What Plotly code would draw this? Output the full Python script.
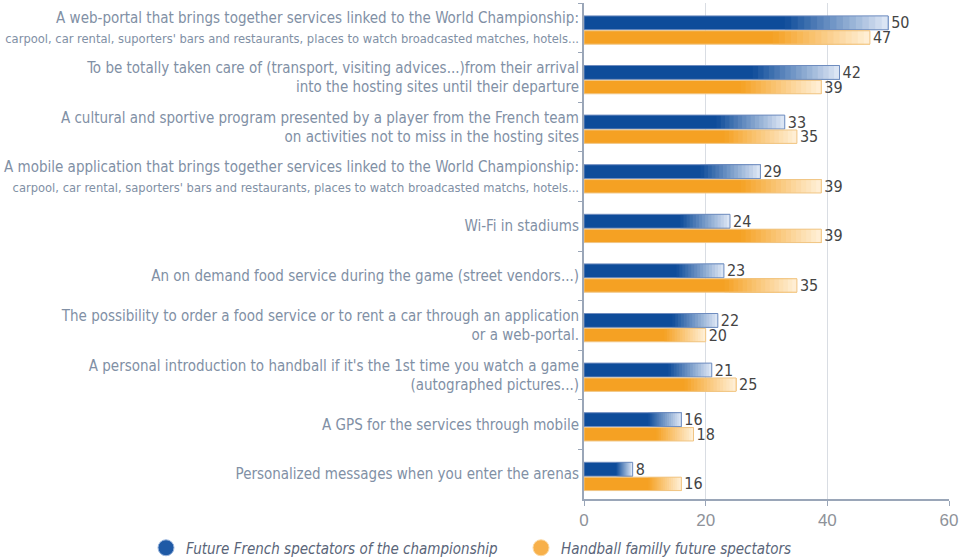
import plotly.graph_objects as go

categories = [
    "A web-portal that brings together services linked to the World Championship:<br><span style='font-size:12.8px'>carpool, car rental, suporters' bars and restaurants, places to watch broadcasted matches, hotels...</span>",
    "To be totally taken care of (transport, visiting advices...)from their arrival<br>into the hosting sites until their departure",
    "A cultural and sportive program presented by a player from the French team<br>on activities not to miss in the hosting sites",
    "A mobile application that brings together services linked to the World Championship:<br><span style='font-size:12.8px'>carpool, car rental, saporters' bars and restaurants, places to watch broadcasted matchs, hotels...</span>",
    "Wi-Fi in stadiums",
    "An on demand food service during the game (street vendors...)",
    "The possibility to order a food service or to rent a car through an application<br>or a web-portal.",
    "A personal introduction to handball if it's the 1st time you watch a game<br>(autographed pictures...)",
    "A GPS for the services through mobile",
    "Personalized messages when you enter the arenas",
]
french = [50, 42, 33, 29, 24, 23, 22, 21, 16, 8]
handball = [47, 39, 35, 39, 39, 35, 20, 25, 18, 16]
series_names = ["Future French spectators of the championship", "Handball familly future spectators"]
x_ticks = [0, 20, 40, 60]

FONT = "Liberation Sans Narrow, DejaVu Sans Condensed, Arial Narrow, sans-serif"
GREY = "#8190a5"


def mix(c1, c2, t):
    a = [int(c1[i:i + 2], 16) for i in (1, 3, 5)]
    b = [int(c2[i:i + 2], 16) for i in (1, 3, 5)]
    return "#" + "".join(f"{round(a[i] + (b[i] - a[i]) * t):02x}" for i in range(3))


styles = [
    dict(dark="#0e4c9a", light="#e2eaf7", edge="#6e8cbf", offset=-0.24, width=0.28),
    dict(dark="#f5a123", light="#fff1da", edge="#f0c584", offset=0.06, width=0.27),
]
NSEG = 16
FADE_START = 0.66

fig = go.Figure()
for vals, name, st in zip([french, handball], series_names, styles):
    # solid body of the bar, with the value label
    fig.add_trace(go.Bar(
        y=categories, x=vals, orientation="h", name=name,
        offset=st["offset"], width=st["width"],
        marker=dict(color=st["dark"], line=dict(width=0)),
        text=vals, textposition="outside", cliponaxis=False, constraintext="none",
        textfont=dict(color="#444444", size=16, family=FONT),
        showlegend=False, hoverinfo="x+y",
    ))
    # fading end of the bar (each step overlaps the next to avoid seams)
    for k in range(NSEG):
        f0 = FADE_START + (1 - FADE_START) * k / NSEG
        fig.add_trace(go.Bar(
            y=categories, x=[v * (1 - f0) for v in vals], base=[v * f0 for v in vals],
            orientation="h", offset=st["offset"], width=st["width"],
            marker=dict(color=mix(st["dark"], st["light"], (k + 0.5) / NSEG), line=dict(width=0)),
            showlegend=False, hoverinfo="skip",
        ))
    # thin outline
    fig.add_trace(go.Bar(
        y=categories, x=vals, orientation="h", offset=st["offset"], width=st["width"],
        marker=dict(color="rgba(0,0,0,0)", line=dict(color=st["edge"], width=1)),
        showlegend=False, hoverinfo="skip",
    ))

# legend entries with circular markers
fig.add_trace(go.Scatter(x=[None], y=[None], mode="markers", name=series_names[0],
                         legend="legend",
                         marker=dict(symbol="circle", size=18, color="#1f5aa6",
                                     line=dict(color="#9db8df", width=1))))
fig.add_trace(go.Scatter(x=[None], y=[None], mode="markers", name=series_names[1],
                         legend="legend2",
                         marker=dict(symbol="circle", size=18, color="#f7b04a",
                                     line=dict(color="#fcd9a2", width=1))))

legend_common = dict(orientation="h", xanchor="left", xref="container",
                     yref="container", yanchor="middle", y=1 - 548 / 559,
                     font=dict(size=15, color="#5a6579", family=FONT, style="italic"),
                     itemwidth=30, bgcolor="rgba(0,0,0,0)")

fig.update_layout(
    width=961, height=559,
    margin=dict(l=584, r=12, t=3, b=60),
    paper_bgcolor="white", plot_bgcolor="white",
    barmode="overlay",
    font=dict(family=FONT, color=GREY, size=15),
    showlegend=True,
    legend=dict(x=146 / 961, **legend_common),
    legend2=dict(x=521 / 961, **legend_common),
    xaxis=dict(range=[0, 60], tickvals=x_ticks, showgrid=True, gridcolor="#d9dde3",
               gridwidth=1, zeroline=False, showline=True, linecolor="#9aa6b8",
               linewidth=2, ticks="outside", ticklen=5, tickcolor="#9aa6b8",
               automargin=False,
               tickfont=dict(size=17, color="#8e9299", family="Liberation Sans, Arial")),
    yaxis=dict(autorange="reversed", showline=True, linecolor="#9aa6b8", linewidth=2,
               ticks="outside", tickson="boundaries", ticklen=4, tickcolor="#9aa6b8",
               automargin=False,
               tickfont=dict(size=15, color=GREY, family=FONT),
               showgrid=False),
)
fig.write_html("out.html", config={"displayModeBar": False},
               post_script="document.body.style.margin='0px';")
